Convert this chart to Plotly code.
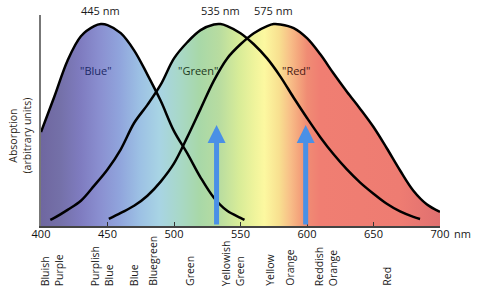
import plotly.graph_objects as go

# ---- data ----
blue_nm = [400, 410, 420, 430, 440, 445, 450, 460, 470, 480, 490, 500, 510, 520, 530, 540, 550, 553]
blue_v = [0.465, 0.64, 0.82, 0.94, 0.99, 1.0, 0.995, 0.955, 0.87, 0.75, 0.62, 0.47, 0.36, 0.24, 0.14, 0.075, 0.04, 0.03]

green_nm = [407, 410, 420, 430, 440, 450, 460, 470, 480, 490, 500, 510, 520, 530, 535, 540, 550, 560, 570, 580,
            590, 600, 610, 620, 630, 640, 650, 660, 670, 680, 685]
green_v = [0.03, 0.04, 0.08, 0.125, 0.2, 0.28, 0.38, 0.51, 0.6, 0.7, 0.83, 0.91, 0.97, 0.998, 1.0, 0.99, 0.955, 0.9,
           0.83, 0.74, 0.635, 0.535, 0.44, 0.355, 0.28, 0.215, 0.16, 0.11, 0.072, 0.045, 0.035]

red_nm = [451, 460, 470, 480, 490, 500, 510, 520, 530, 540, 550, 560, 570, 575, 580, 590, 600, 610, 620, 630,
          640, 650, 660, 670, 680, 690, 700]
red_v = [0.035, 0.065, 0.1, 0.15, 0.22, 0.31, 0.44, 0.58, 0.72, 0.83, 0.9, 0.955, 0.99, 1.0, 0.998, 0.98, 0.93,
         0.85, 0.755, 0.665, 0.58, 0.49, 0.385, 0.275, 0.175, 0.108, 0.07]

peak_nm = [445, 535, 575]
peak_labels = ["445 nm", "535 nm", "575 nm"]
cone_label_nm = [441, 518, 592]
cone_labels = ['"Blue"', '"Green"', '"Red"']
cone_label_colors = ["#1c2a66", "#1c381c", "#4a1a14"]

arrow_nm = [532, 599]
arrow_tip = [0.5, 0.5]

tick_vals = [400, 450, 500, 550, 600, 650, 700]
tick_text = ["400", "450", "500", "550", "600", "650", "700"]

color_names = ["Bluish<br>Purple", "Purplish<br>Blue", "Blue", "Bluegreen", "Green", "Yellowish<br>Green",
               "Yellow", "Orange", "Reddish<br>Orange", "Red"]
color_name_nm = [408.5, 446, 470, 484, 512, 544.5, 572, 587, 614, 659.5]

spectrum_nm = [400, 414, 430, 444, 459, 474, 489, 504, 519, 534, 549, 561, 568, 579, 587, 594, 600, 610, 670, 700]
spectrum_col = ["#6f67a0", "#7470a8", "#7f7cc0", "#8a8fd0", "#90a4dc", "#9cc0e4", "#a8d4e4", "#a8d8c8",
                "#a8d8a8", "#b8dca0", "#d8ec98", "#f0f49c", "#fcf8a0", "#f8e090", "#f8c088", "#f4a47c",
                "#f08c74", "#f07e72", "#ee7c72", "#e07070"]

FONT = "Open Sans"
x0, x1 = 400, 700
cscale = [[(n - x0) / (x1 - x0), c] for n, c in zip(spectrum_nm, spectrum_col)]

fig = go.Figure()
curves = [(blue_nm, blue_v), (green_nm, green_v), (red_nm, red_v)]
for xs, ys in curves:
    fig.add_trace(go.Scatter(
        x=xs, y=ys, mode="lines", line=dict(width=0, shape="spline", smoothing=1),
        fill="tozeroy",
        fillgradient=dict(type="horizontal", colorscale=cscale, start=x0, stop=x1),
        hoverinfo="skip", showlegend=False))
for xs, ys in curves:
    fig.add_trace(go.Scatter(
        x=xs, y=ys, mode="lines", line=dict(width=2.5, color="black", shape="spline", smoothing=1),
        hoverinfo="skip", showlegend=False))

ann = []
for n, t in zip(peak_nm, peak_labels):
    ann.append(dict(x=n, y=1.022, xref="x", yref="paper", text=t, showarrow=False, yanchor="middle",
                    font=dict(family=FONT, size=11, color="#1a1a1a")))
for n, t, c in zip(cone_label_nm, cone_labels, cone_label_colors):
    ann.append(dict(x=n, y=0.77, xref="x", yref="y", text=t, showarrow=False,
                    font=dict(family=FONT, size=11, color=c)))
for n, tip in zip(arrow_nm, arrow_tip):
    ann.append(dict(x=n, y=tip, xref="x", yref="y", ax=n, ay=0, axref="x", ayref="y", text="",
                    showarrow=True, arrowhead=2, arrowsize=0.72, arrowwidth=5, arrowcolor="#4a90e6",
                    standoff=0, startstandoff=0))
for n, t in zip(color_name_nm, color_names):
    ann.append(dict(x=n, y=-0.294, xref="x", yref="paper", text=t, showarrow=False, textangle=-90,
                    xanchor="center", yanchor="bottom", align="left",
                    font=dict(family=FONT, size=10.5, color="#1a1a1a")))
ann.append(dict(x=-0.052, y=0.43, xref="paper", yref="paper", text="Absorption<br>(arbitrary units)",
                showarrow=False, textangle=-90, xanchor="center", yanchor="middle", align="center",
                font=dict(family=FONT, size=10.5, color="#2b2618")))
ann.append(dict(x=700, y=0, xref="x", yref="paper", text="nm", showarrow=False, xanchor="left",
                yanchor="top", xshift=12, yshift=2, font=dict(family=FONT, size=11, color="#1a1a1a")))

fig.update_layout(
    width=477, height=304, margin=dict(l=41, r=37, t=15, b=78),
    paper_bgcolor="white", plot_bgcolor="white",
    annotations=ann,
    xaxis=dict(range=[x0, x1], showgrid=False, zeroline=False, showline=True, linecolor="#444",
               linewidth=2, ticks="inside", ticklen=4, tickcolor="#333", tickwidth=1,
               tickvals=tick_vals, ticktext=tick_text, ticklabelstandoff=-3,
               tickfont=dict(family=FONT, size=11, color="#111")),
    yaxis=dict(range=[0, 1.045], showgrid=False, zeroline=False, showline=True, linecolor="#777",
               linewidth=2, showticklabels=False, ticks=""),
)

fig.write_html("out.html")
